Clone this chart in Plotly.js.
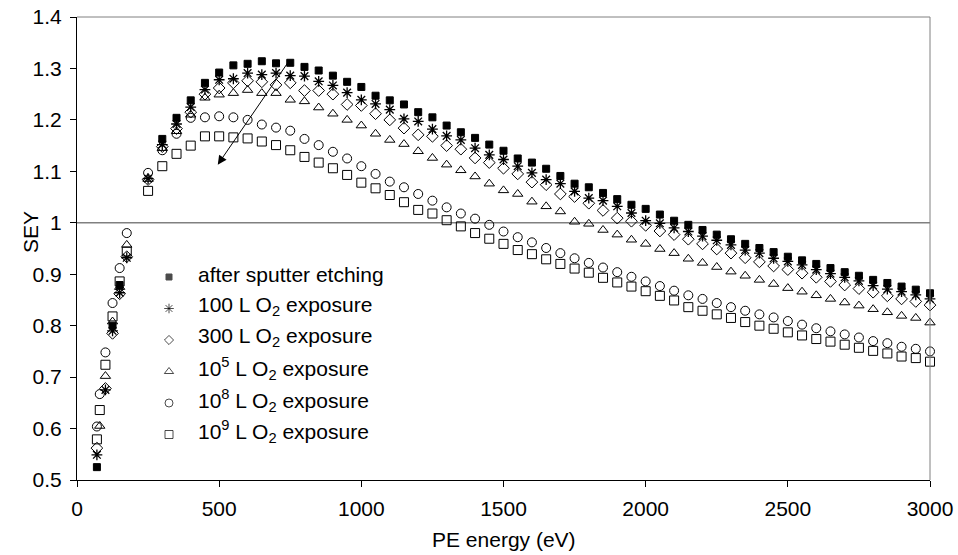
<!DOCTYPE html>
<html>
<head>
<meta charset="utf-8">
<script src="https://cdn.plot.ly/plotly-3.0.1.min.js"></script>
<style>html,body{margin:0;padding:0;background:#fff;}#chart{width:958px;height:555px;}</style>
</head>
<body>
<div id="chart"></div>
<script>
// Low-energy points (eV)
const lowEnergy = [70, 80, 100, 125, 150, 175];
// Main scan energies (eV)
const energy = [250, 300, 350, 400, 450, 500, 550, 600, 650, 700, 750, 800, 850, 900, 950, 1000,
  1050, 1100, 1150, 1200, 1250, 1300, 1350, 1400, 1450, 1500, 1550, 1600, 1650, 1700, 1750, 1800,
  1850, 1900, 1950, 2000, 2050, 2100, 2150, 2200, 2250, 2300, 2350, 2400, 2450, 2500, 2550, 2600,
  2650, 2700, 2750, 2800, 2850, 2900, 2950, 3000];

const seriesNames = [
  "after sputter etching",
  "100 L O<sub>2</sub> exposure",
  "300 L O<sub>2</sub> exposure",
  "10<sup>5</sup> L O<sub>2</sub> exposure",
  "10<sup>8</sup> L O<sub>2</sub> exposure",
  "10<sup>9</sup> L O<sub>2</sub> exposure"
];

const sputterLow = [0.525, null, null, 0.800, 0.879, null];
const sputter = [null, 1.163, 1.204, 1.238, 1.272, 1.292, 1.306, 1.309, 1.314, 1.310, 1.311, 1.303, 1.296, 1.286, 1.274, 1.264,
  1.247, 1.238, 1.230, 1.215, 1.205, 1.189, 1.176, 1.165, 1.152, 1.140, 1.125, 1.117, 1.105, 1.091, 1.076, 1.069,
  1.058, 1.046, 1.035, 1.027, 1.016, 1.004, 0.996, 0.986, 0.977, 0.968, 0.959, 0.951, 0.943, 0.934, 0.927, 0.920,
  0.912, 0.904, 0.897, 0.889, 0.883, 0.876, 0.870, 0.863];

const o100Low = [0.549, null, 0.675, 0.790, 0.864, 0.932];
const o100 = [1.086, 1.152, 1.192, 1.225, 1.259, 1.278, 1.280, 1.291, 1.288, 1.291, 1.286, 1.285, 1.275, 1.267, 1.253, 1.239,
  1.231, 1.220, 1.202, 1.197, 1.182, 1.169, 1.161, 1.145, 1.132, 1.123, 1.110, 1.097, 1.084, 1.076, 1.061, 1.048,
  1.043, 1.032, 1.019, 1.004, 0.999, 0.990, 0.983, 0.974, 0.966, 0.957, 0.947, 0.941, 0.931, 0.925, 0.918, 0.909,
  0.901, 0.894, 0.887, 0.878, 0.871, 0.866, 0.860, 0.852];

const o300Low = [0.562, null, 0.678, 0.785, 0.862, 0.934];
const o300 = [1.084, 1.148, 1.183, 1.215, 1.250, 1.262, 1.272, 1.276, 1.274, 1.268, 1.272, 1.257, 1.257, 1.250, 1.230, 1.228,
  1.212, 1.200, 1.184, 1.171, 1.168, 1.150, 1.143, 1.126, 1.117, 1.106, 1.095, 1.079, 1.074, 1.056, 1.051, 1.038,
  1.024, 1.009, 1.003, 0.995, 0.984, 0.977, 0.968, 0.959, 0.949, 0.941, 0.932, 0.924, 0.916, 0.909, 0.902, 0.894,
  0.886, 0.879, 0.872, 0.865, 0.858, 0.852, 0.847, 0.840];

const o1e5Low = [null, 0.605, 0.702, 0.808, 0.875, 0.957];
const o1e5 = [1.085, 1.145, 1.178, 1.210, 1.243, 1.249, 1.252, 1.258, 1.252, 1.252, 1.239, 1.236, 1.224, 1.212, 1.200, 1.189,
  1.173, 1.161, 1.153, 1.139, 1.126, 1.113, 1.102, 1.090, 1.076, 1.063, 1.056, 1.041, 1.032, 1.022, 1.002, 0.998,
  0.986, 0.977, 0.967, 0.959, 0.949, 0.941, 0.930, 0.922, 0.914, 0.905, 0.897, 0.889, 0.881, 0.873, 0.866, 0.859,
  0.852, 0.845, 0.839, 0.832, 0.826, 0.819, 0.815, 0.806];

const o1e8Low = [0.604, 0.667, 0.748, 0.844, 0.912, 0.980];
const o1e8 = [1.097, 1.141, 1.173, 1.204, 1.205, 1.207, 1.205, 1.200, 1.191, 1.185, 1.179, 1.163, 1.151, 1.138, 1.125, 1.110,
  1.095, 1.080, 1.069, 1.056, 1.043, 1.030, 1.018, 1.008, 0.996, 0.983, 0.972, 0.962, 0.951, 0.941, 0.931, 0.922,
  0.913, 0.904, 0.895, 0.886, 0.877, 0.868, 0.859, 0.852, 0.844, 0.836, 0.829, 0.822, 0.816, 0.809, 0.802, 0.795,
  0.789, 0.783, 0.777, 0.770, 0.766, 0.759, 0.755, 0.750];

const o1e9Low = [0.579, 0.636, 0.724, 0.818, 0.886, 0.944];
const o1e9 = [1.062, 1.110, 1.134, 1.150, 1.168, 1.168, 1.166, 1.164, 1.158, 1.151, 1.141, 1.128, 1.117, 1.106, 1.093, 1.078,
  1.067, 1.054, 1.040, 1.025, 1.018, 1.005, 0.993, 0.980, 0.969, 0.959, 0.947, 0.939, 0.929, 0.920, 0.911, 0.903,
  0.893, 0.884, 0.876, 0.867, 0.858, 0.849, 0.836, 0.829, 0.822, 0.815, 0.807, 0.800, 0.794, 0.787, 0.781, 0.774,
  0.769, 0.763, 0.757, 0.751, 0.746, 0.740, 0.737, 0.730];

// ---- styling / layout (not data) ----
const symbols = ["square", "asterisk-open", "diamond-open", "triangle-up-open", "circle-open", "square-open"];
const sizes = [7, 9, 9, 9, 9, 9];
const keySizes = [6, 8, 7, 8, 8, 8];
const lows = [sputterLow, o100Low, o300Low, o1e5Low, o1e8Low, o1e9Low];
const mains = [sputter, o100, o300, o1e5, o1e8, o1e9];

const xAll = lowEnergy.concat(energy);
const traces = mains.map((m, i) => ({
  type: "scatter",
  mode: "markers",
  name: seriesNames[i],
  x: xAll,
  y: lows[i].concat(m),
  showlegend: false,
  marker: {
    symbol: symbols[i],
    size: sizes[i],
    color: "#000",
    line: {color: "#000", width: i === 1 ? 1.3 : 1}
  },
  cliponaxis: false
}));

// Legend drawn as a key on an overlay axis (0..1) with text annotations
const PLOT_L = 77, PLOT_W = 853, PLOT_B = 480, PLOT_H = 463;
const toPX = px => (px - PLOT_L) / PLOT_W;
const toPY = py => (PLOT_B - py) / PLOT_H;
const keyRow0 = 277, keyStep = 31.5, keyX = 169, keyTextX = 196;
const keyY = seriesNames.map((_, i) => toPY(keyRow0 + i * keyStep));
traces.push({
  type: "scatter", mode: "markers", xaxis: "x2", yaxis: "y2", showlegend: false,
  x: seriesNames.map(() => toPX(keyX)), y: keyY,
  marker: {symbol: symbols, size: keySizes, color: "#000", line: {color: "#000", width: 1}}
});

const FONT = "Liberation Sans, Arial, sans-serif";
const FS = 21;
const legendText = seriesNames.map((t, i) => ({
  xref: "paper", yref: "paper", x: toPX(keyTextX), y: toPY(keyRow0 + i * keyStep - 3),
  xanchor: "left", yanchor: "middle",
  text: t, showarrow: false, font: {family: FONT, size: FS, color: "#000"}
}));

const layout = {
  width: 958, height: 555,
  margin: {l: 77, r: 28, t: 17, b: 75},
  paper_bgcolor: "#fff", plot_bgcolor: "#fff",
  font: {family: FONT, size: FS, color: "#000"},
  showlegend: false,
  xaxis: {
    range: [0, 3000], tickvals: [0, 500, 1000, 1500, 2000, 2500, 3000],
    ticks: "outside", ticklen: 6, tickcolor: "#000", tickwidth: 1,
    ticklabelstandoff: 4,
    showline: true, linecolor: "#000", linewidth: 1,
    showgrid: false, zeroline: false,
    tickfont: {family: FONT, size: FS, color: "#000"}
  },
  yaxis: {
    range: [0.5, 1.4], tickvals: [0.5, 0.6, 0.7, 0.8, 0.9, 1.0, 1.1, 1.2, 1.3, 1.4],
    ticktext: ["0.5", "0.6", "0.7", "0.8", "0.9", "1", "1.1", "1.2", "1.3", "1.4"],
    ticks: "outside", ticklen: 6, tickcolor: "#000", tickwidth: 1,
    ticklabelstandoff: 4,
    showline: true, linecolor: "#000", linewidth: 1,
    showgrid: false, zeroline: false,
    tickfont: {family: FONT, size: FS, color: "#000"}
  },
  xaxis2: {overlaying: "x", anchor: "y2", range: [0, 1], visible: false, fixedrange: true},
  yaxis2: {overlaying: "y", anchor: "x2", range: [0, 1], visible: false, fixedrange: true},
  shapes: [
    {type: "line", xref: "paper", yref: "paper", x0: 0, x1: 1, y0: 1, y1: 1, line: {color: "#808080", width: 1}},
    {type: "line", xref: "paper", yref: "paper", x0: 1, x1: 1, y0: 0, y1: 1, line: {color: "#808080", width: 1}},
    {type: "line", xref: "paper", yref: "y", x0: 0, x1: 1, y0: 1.0, y1: 1.0, line: {color: "#808080", width: 1.5}, layer: "below"}
  ],
  annotations: [
    {x: 495, y: 1.113, xref: "x", yref: "y", ax: 750, ay: 1.318, axref: "x", ayref: "y",
     text: "", showarrow: true, arrowhead: 2, arrowsize: 1.8, arrowwidth: 1, arrowcolor: "#000"},
    {xref: "paper", yref: "paper", x: toPX(503.5), y: toPY(539), xanchor: "center", yanchor: "middle",
     text: "PE energy (eV)", showarrow: false, font: {family: FONT, size: FS, color: "#000"}},
    {xref: "paper", yref: "paper", x: toPX(31), y: toPY(232), xanchor: "center", yanchor: "middle",
     text: "SEY", textangle: -90, showarrow: false, font: {family: FONT, size: FS, color: "#000"}}
  ].concat(legendText)
};

Plotly.newPlot("chart", traces, layout, {displayModeBar: false, staticPlot: true});
</script>
</body>
</html>
